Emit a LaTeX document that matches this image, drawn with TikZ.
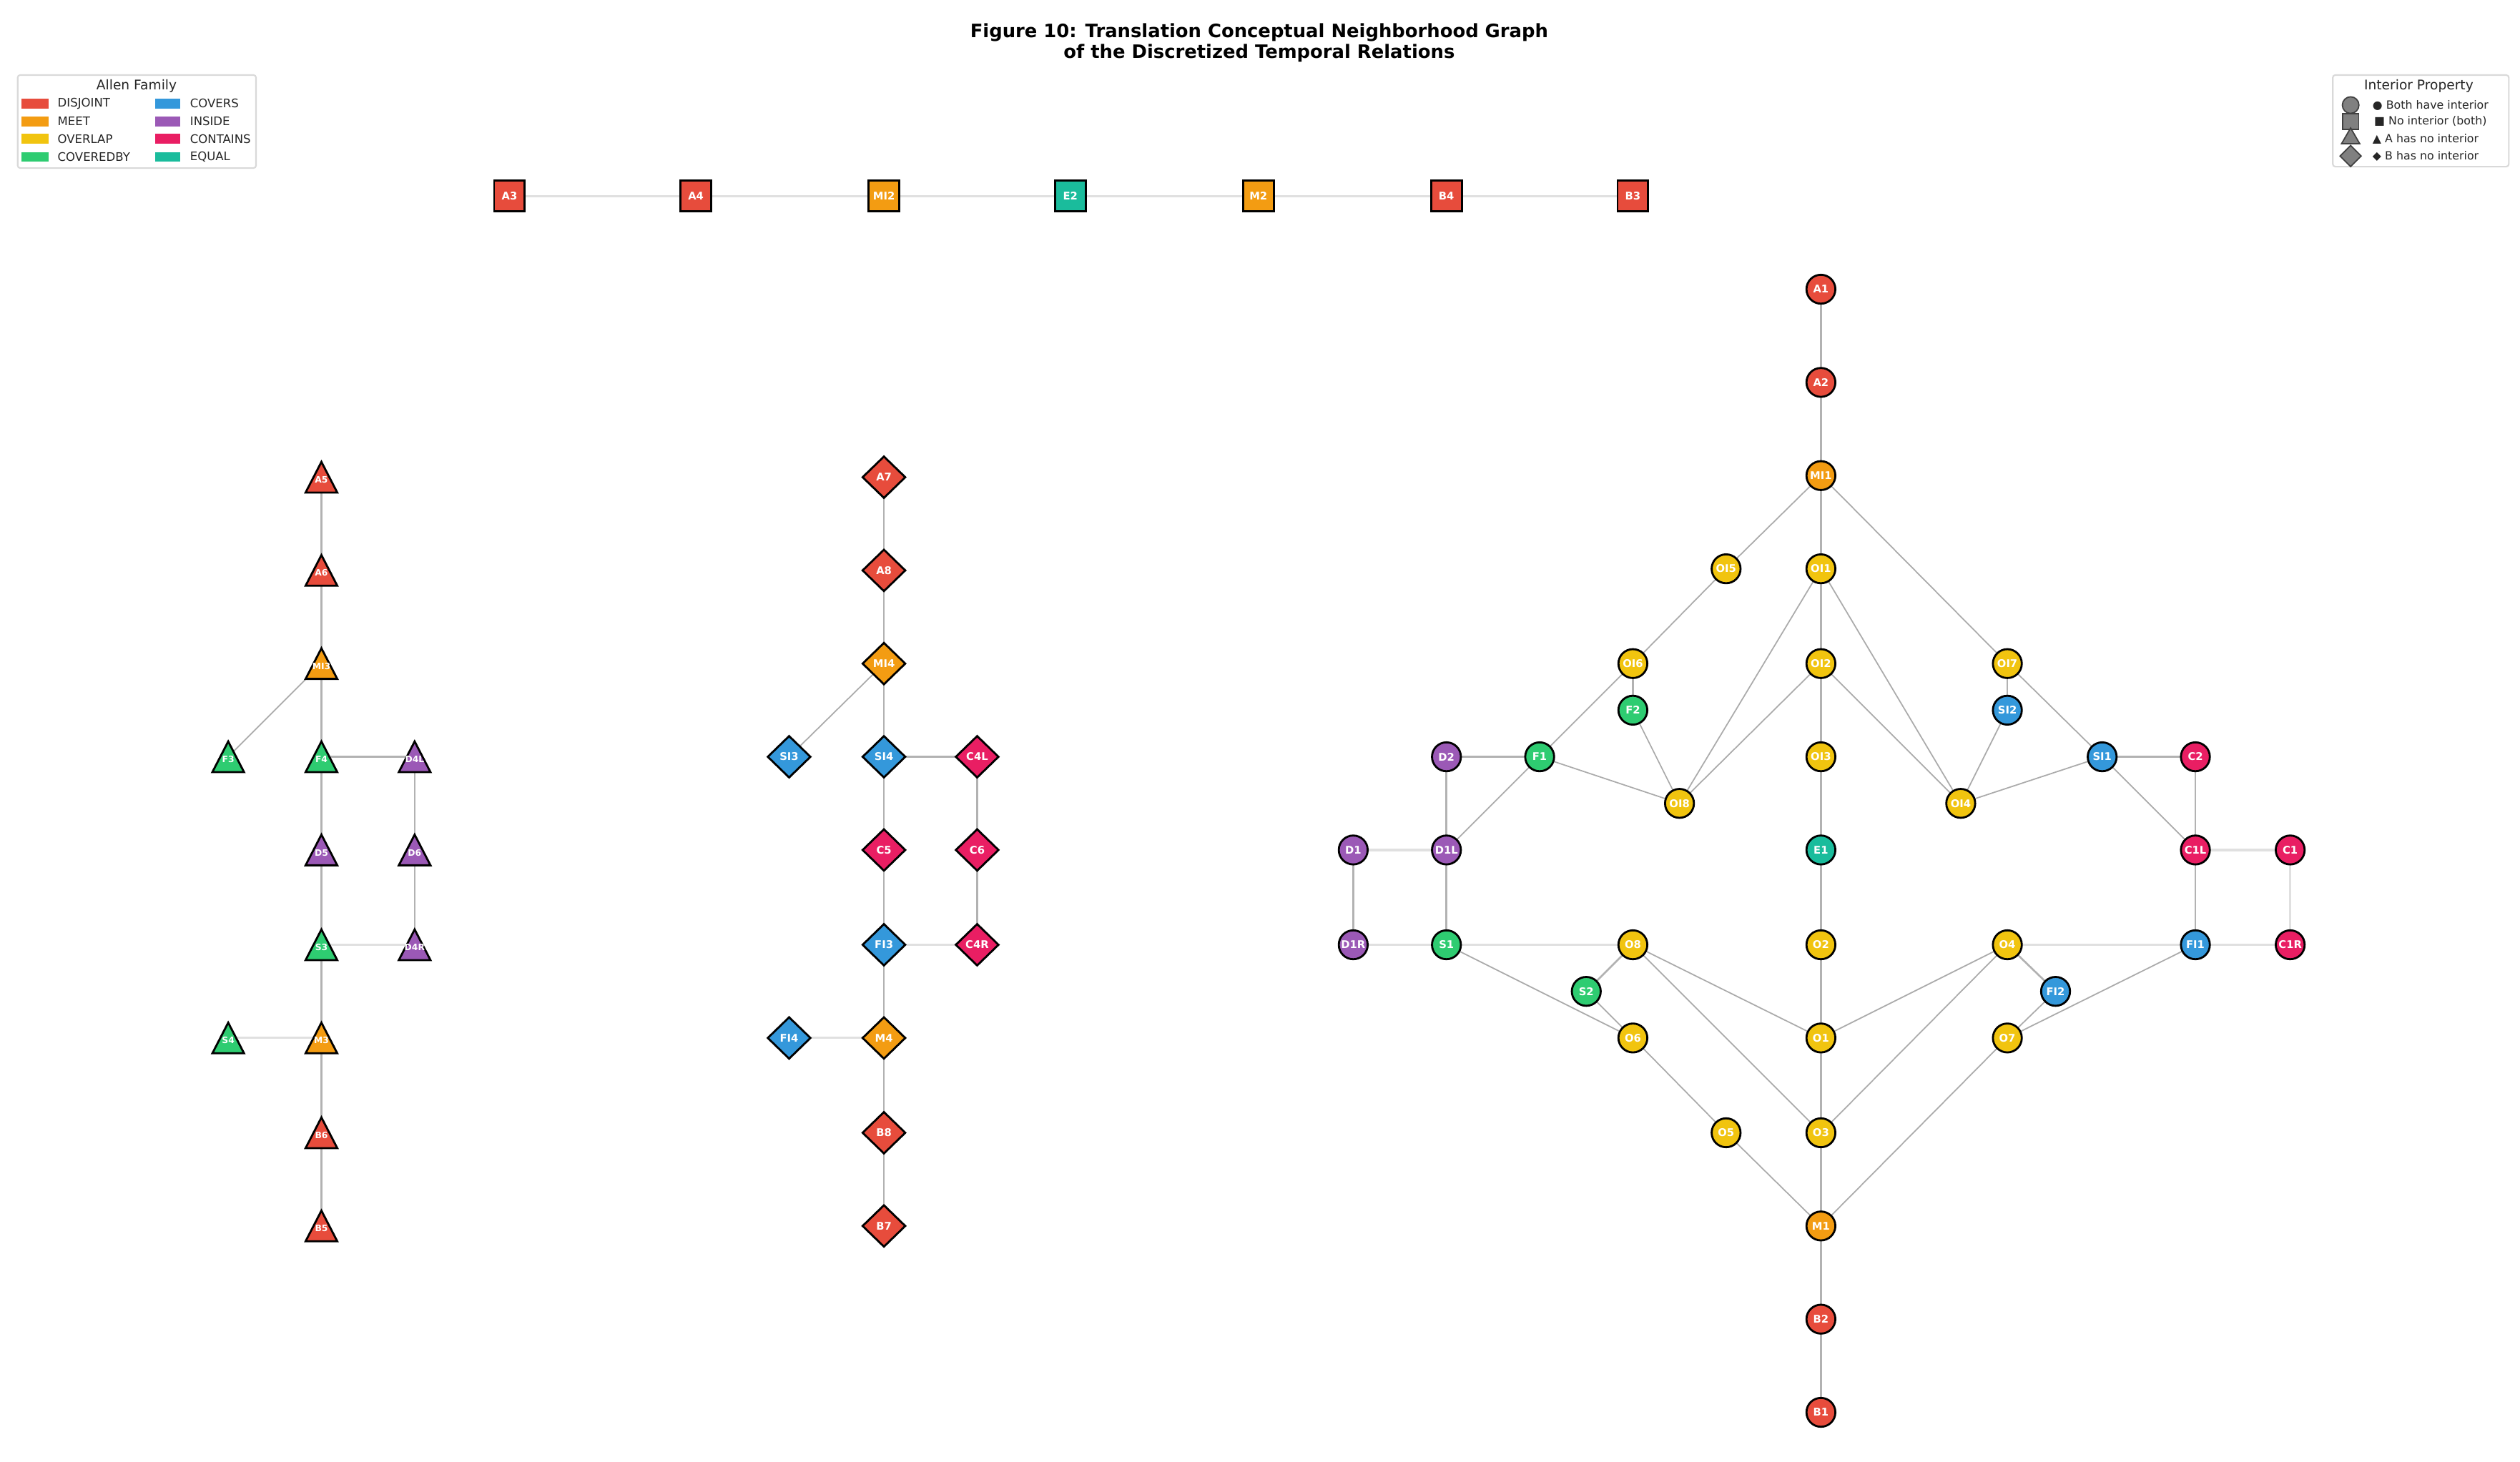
\documentclass[tikz,border=0pt]{standalone}
\usepackage{fontspec}
\setmainfont{DejaVu Sans}
\usetikzlibrary{shapes.geometric,backgrounds}

\definecolor{disj}{HTML}{E74C3C}
\definecolor{meet}{HTML}{F39C12}
\definecolor{ovl}{HTML}{F1C40F}
\definecolor{cby}{HTML}{2ECC71}
\definecolor{cov}{HTML}{3498DB}
\definecolor{ins}{HTML}{9B59B6}
\definecolor{con}{HTML}{E91E63}
\definecolor{equ}{HTML}{1ABC9C}
\newcommand{\lbl}{\fontsize{4.2}{4.2}\selectfont\bfseries}
\newcommand{\trilbl}{\fontsize{3.5}{3.5}\selectfont\bfseries}

\begin{document}
\begin{tikzpicture}[x=0.022474cm, y=-0.022474cm,
  nd/.style={draw=black, line width=0.8pt, text=white, font=\lbl, inner sep=0pt},
  cir/.style={nd, circle, fill=#1, minimum size=11.5pt},
  sq/.style={nd, rectangle, fill=#1, minimum size=12.2pt},
  dia/.style={nd, diamond, fill=#1, minimum width=17.3pt, minimum height=16.8pt},
  tri/.style={circle, inner sep=0pt, minimum size=20pt, text=white, font=\trilbl,
    text height=4.6pt, text depth=0pt,
    path picture={\filldraw[fill=#1, draw=black, line width=0.8pt]
      ([yshift=6.1pt]path picture bounding box.center) -- ++(-6.3pt,-12.2pt) -- ++(12.6pt,0pt) -- cycle;}},
  link/.style={draw=black!30, line width=0.75pt},
  diag/.style={draw=black!33, line width=0.5pt},
  weak/.style={draw=black!12, line width=0.9pt},
  legtxt/.style={font=\fontsize{4.7}{5}\selectfont, text=black!85, anchor=west, inner sep=0pt},
  keytxt/.style={font=\fontsize{4.5}{5}\selectfont, text=black!85, anchor=west, inner sep=0pt},
  key/.style={fill=black!50, draw=black!75, line width=0.5pt, inner sep=0pt}
]
\useasboundingbox (0,0) rectangle (1568,909.5);

\node[font=\fontsize{7.35}{8.3}\selectfont\bfseries, align=center] (title) at (783.5,26.5)
  {Figure 10: Translation Conceptual Neighborhood Graph\\of the Discretized Temporal Relations};

\draw[black!15, line width=0.6pt, rounded corners=1pt] (11,46.7) rectangle (159.3,104.6);
\node[font=\fontsize{5.3}{6}\selectfont, text=black!85] (famtitle) at (85,53.4) {Allen Family};
\fill[disj] (13.4,61.5) rectangle (30.3,67.5);
\fill[meet] (13.4,72.6) rectangle (30.3,78.6);
\fill[ovl] (13.4,83.4) rectangle (30.3,89.4);
\fill[cby] (13.4,94.6) rectangle (30.3,100.6);
\fill[cov] (96.5,61.5) rectangle (112,67.5);
\fill[ins] (96.5,72.6) rectangle (112,78.6);
\fill[con] (96.5,83.4) rectangle (112,89.4);
\fill[equ] (96.5,94.6) rectangle (112,100.6);
\node[legtxt] (ldisj) at (35.6,64.5) {DISJOINT};
\node[legtxt] (lmeet) at (35.6,75.6) {MEET};
\node[legtxt] (lovl) at (35.6,86.4) {OVERLAP};
\node[legtxt] (lcby) at (35.6,97.6) {COVEREDBY};
\node[legtxt] (lcov) at (118,64.5) {COVERS};
\node[legtxt] (lins) at (118,75.6) {INSIDE};
\node[legtxt] (lcon) at (118,86.4) {CONTAINS};
\node[legtxt] (lequ) at (118,97.6) {EQUAL};

\draw[black!15, line width=0.6pt, rounded corners=1pt] (1451.5,46.7) rectangle (1561,103.7);
\node[font=\fontsize{5.3}{6}\selectfont, text=black!85] (proptitle) at (1505,53.4) {Interior Property};
\node[key, circle, minimum size=6.6pt] (kboth) at (1462.6,65.4) {};
\node[key, rectangle, minimum size=6.4pt] (knone) at (1462.6,75.6) {};
\node[key, regular polygon, regular polygon sides=3, minimum size=8.4pt] (ka) at (1462.6,86.2) {};
\node[key, diamond, minimum size=8.6pt] (kb) at (1462.6,97.1) {};
\node[keytxt] (tboth) at (1476,65.4) {● Both have interior};
\node[keytxt] (tnone) at (1477,75.6) {■ No interior (both)};
\node[keytxt] (ta) at (1476,86.6) {▲ A has no interior};
\node[keytxt] (tb) at (1476,97.1) {◆ B has no interior};

% top row
\node[sq=disj] (A3) at (317,122) {A3};
\node[sq=disj] (A4) at (433,122) {A4};
\node[sq=meet] (MI2) at (550,122) {MI2};
\node[sq=equ] (E2) at (666,122) {E2};
\node[sq=meet] (M2) at (783,122) {M2};
\node[sq=disj] (B4) at (900,122) {B4};
\node[sq=disj] (B3) at (1016,122) {B3};

% triangles
\node[tri=disj] (A5) at (200,297) {A5};
\node[tri=disj] (A6) at (200,355) {A6};
\node[tri=meet] (MI3) at (200,413) {MI3};
\node[tri=cby] (F3) at (142,471) {F3};
\node[tri=cby] (F4) at (200,471) {F4};
\node[tri=ins] (D4L) at (258,471) {D4L};
\node[tri=ins] (D5) at (200,529) {D5};
\node[tri=ins] (D6) at (258,529) {D6};
\node[tri=cby] (S3) at (200,588) {S3};
\node[tri=ins] (D4R) at (258,588) {D4R};
\node[tri=cby] (S4) at (142,646) {S4};
\node[tri=meet] (M3) at (200,646) {M3};
\node[tri=disj] (B6) at (200,705) {B6};
\node[tri=disj] (B5) at (200,763) {B5};

% diamonds
\node[dia=disj] (A7) at (550,297) {A7};
\node[dia=disj] (A8) at (550,355) {A8};
\node[dia=meet] (MI4) at (550,413) {MI4};
\node[dia=cov] (SI3) at (491,471) {SI3};
\node[dia=cov] (SI4) at (550,471) {SI4};
\node[dia=con] (C4L) at (608,471) {C4L};
\node[dia=con] (C5) at (550,529) {C5};
\node[dia=con] (C6) at (608,529) {C6};
\node[dia=cov] (FI3) at (550,588) {FI3};
\node[dia=con] (C4R) at (608,588) {C4R};
\node[dia=cov] (FI4) at (491,646) {FI4};
\node[dia=meet] (M4) at (550,646) {M4};
\node[dia=disj] (B8) at (550,705) {B8};
\node[dia=disj] (B7) at (550,763) {B7};

% circles
\node[cir=disj] (A1) at (1133,180) {A1};
\node[cir=disj] (A2) at (1133,238) {A2};
\node[cir=meet] (MI1) at (1133,296) {MI1};
\node[cir=ovl] (OI1) at (1133,354) {OI1};
\node[cir=ovl] (OI2) at (1133,413) {OI2};
\node[cir=ovl] (OI3) at (1133,471) {OI3};
\node[cir=equ] (E1) at (1133,529) {E1};
\node[cir=ovl] (O2) at (1133,588) {O2};
\node[cir=ovl] (O1) at (1133,646) {O1};
\node[cir=ovl] (O3) at (1133,705) {O3};
\node[cir=meet] (M1) at (1133,763) {M1};
\node[cir=disj] (B2) at (1133,821) {B2};
\node[cir=disj] (B1) at (1133,879) {B1};

\node[cir=ovl] (OI5) at (1074,354) {OI5};
\node[cir=ovl] (OI6) at (1016,413) {OI6};
\node[cir=cby] (F2) at (1016,442) {F2};
\node[cir=ins] (D2) at (900,471) {D2};
\node[cir=cby] (F1) at (958,471) {F1};
\node[cir=ovl] (OI8) at (1045,500) {OI8};
\node[cir=ins] (D1) at (842,529) {D1};
\node[cir=ins] (D1L) at (900,529) {D1L};
\node[cir=ins] (D1R) at (842,588) {D1R};
\node[cir=cby] (S1) at (900,588) {S1};
\node[cir=ovl] (O8) at (1016,588) {O8};
\node[cir=cby] (S2) at (987,617) {S2};
\node[cir=ovl] (O6) at (1016,646) {O6};
\node[cir=ovl] (O5) at (1074,705) {O5};

\node[cir=ovl] (OI7) at (1249,413) {OI7};
\node[cir=cov] (SI2) at (1249,442) {SI2};
\node[cir=cov] (SI1) at (1308,471) {SI1};
\node[cir=con] (C2) at (1366,471) {C2};
\node[cir=ovl] (OI4) at (1220,500) {OI4};
\node[cir=con] (C1L) at (1366,529) {C1L};
\node[cir=con] (C1) at (1425,529) {C1};
\node[cir=ovl] (O4) at (1249,588) {O4};
\node[cir=cov] (FI1) at (1366,588) {FI1};
\node[cir=con] (C1R) at (1425,588) {C1R};
\node[cir=cov] (FI2) at (1279,617) {FI2};
\node[cir=ovl] (O7) at (1249,646) {O7};

\begin{scope}[on background layer]
\fill[white] (0,0) rectangle (1568,909.5);

\draw[weak] (A3.center)--(A4.center)--(MI2.center)--(E2.center)--(M2.center)--(B4.center)--(B3.center);

\draw[link] (A5.center)--(A6.center)--(MI3.center)--(F4.center)--(D5.center)--(S3.center)--(M3.center)--(B6.center)--(B5.center);
\draw[diag] (MI3.center)--(F3.center);
\draw[link] (F4.center)--(D4L.center)--(D6.center)--(D4R.center);
\draw[weak] (S3.center)--(D4R.center);
\draw[weak] (S4.center)--(M3.center);

\draw[link] (A7.center)--(A8.center)--(MI4.center)--(SI4.center)--(C5.center)--(FI3.center)--(M4.center)--(B8.center)--(B7.center);
\draw[diag] (MI4.center)--(SI3.center);
\draw[link] (SI4.center)--(C4L.center)--(C6.center)--(C4R.center);
\draw[weak] (FI3.center)--(C4R.center);
\draw[weak] (FI4.center)--(M4.center);

\draw[link] (A1.center)--(A2.center)--(MI1.center)--(OI1.center)--(OI2.center)--(OI3.center)--(E1.center)--(O2.center)--(O1.center)--(O3.center)--(M1.center)--(B2.center)--(B1.center);

\draw[diag] (MI1.center)--(OI5.center);
\draw[diag] (OI5.center)--(OI6.center);
\draw[link] (OI6.center)--(F2.center);
\draw[diag] (OI6.center)--(F1.center);
\draw[diag] (F2.center)--(OI8.center);
\draw[diag] (F1.center)--(OI8.center);
\draw[diag] (OI1.center)--(OI8.center);
\draw[diag] (OI2.center)--(OI8.center);
\draw[link] (D2.center)--(F1.center);
\draw[diag] (F1.center)--(D1L.center);
\draw[link] (D2.center)--(D1L.center);
\draw[weak] (D1.center)--(D1L.center);
\draw[link] (D1.center)--(D1R.center);
\draw[link] (D1L.center)--(S1.center);
\draw[weak] (D1R.center)--(S1.center);

\draw[diag] (MI1.center)--(OI7.center);
\draw[link] (OI7.center)--(SI2.center);
\draw[diag] (OI7.center)--(SI1.center);
\draw[diag] (SI2.center)--(OI4.center);
\draw[diag] (OI1.center)--(OI4.center);
\draw[diag] (OI2.center)--(OI4.center);
\draw[diag] (OI4.center)--(SI1.center);
\draw[link] (SI1.center)--(C2.center);
\draw[diag] (SI1.center)--(C1L.center);
\draw[link] (C2.center)--(C1L.center);
\draw[weak] (C1L.center)--(C1.center);
\draw[link] (C1L.center)--(FI1.center);
\draw[weak] (C1.center)--(C1R.center);
\draw[weak] (FI1.center)--(C1R.center);

\draw[weak] (S1.center)--(O8.center);
\draw[diag] (S1.center)--(O6.center);
\draw[link] (O8.center)--(S2.center);
\draw[diag] (S2.center)--(O6.center);
\draw[diag] (O8.center)--(O1.center);
\draw[diag] (O8.center)--(O3.center);
\draw[diag] (O6.center)--(O5.center);
\draw[diag] (O5.center)--(M1.center);

\draw[diag] (O4.center)--(O1.center);
\draw[diag] (O4.center)--(O3.center);
\draw[link] (O4.center)--(FI2.center);
\draw[weak] (O4.center)--(FI1.center);
\draw[diag] (FI2.center)--(O7.center);
\draw[diag] (O7.center)--(FI1.center);
\draw[diag] (O7.center)--(M1.center);
\end{scope}
\end{tikzpicture}
\end{document}
